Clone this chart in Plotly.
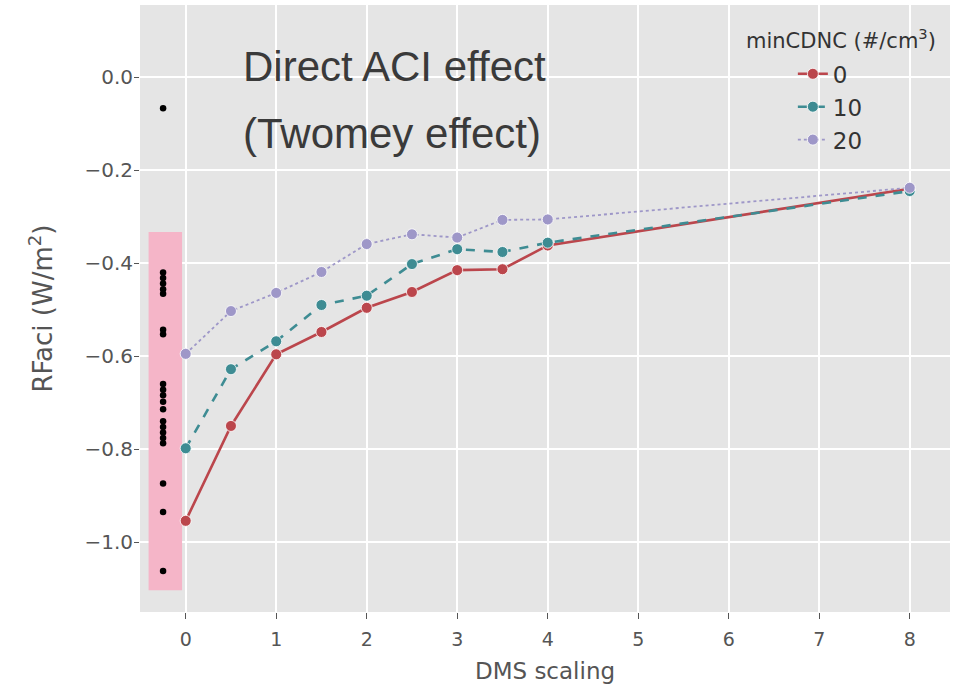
import plotly.graph_objects as go

# ---- data ----
dms_scaling = [0, 0.5, 1, 1.5, 2, 2.5, 3, 3.5, 4, 8]
series_names = ["0", "10", "20"]
rfaci_0 = [-0.954, -0.750, -0.596, -0.548, -0.496, -0.462, -0.415, -0.413, -0.362, -0.240]
rfaci_10 = [-0.798, -0.628, -0.568, -0.490, -0.470, -0.402, -0.370, -0.376, -0.356, -0.245]
rfaci_20 = [-0.595, -0.503, -0.464, -0.419, -0.359, -0.338, -0.345, -0.307, -0.306, -0.238]

# reference model estimates (black dots, drawn to the left of 0)
ref_x = -0.25
ref_values = [-0.067, -0.420, -0.432, -0.444, -0.456, -0.466, -0.543, -0.553,
              -0.660, -0.672, -0.684, -0.698, -0.714, -0.740, -0.752, -0.764,
              -0.776, -0.787, -0.874, -0.935, -1.062]
# shaded range of the reference estimates
range_x = [-0.41, -0.04]
range_y = [-1.103, -0.333]

x_ticks = [0, 1, 2, 3, 4, 5, 6, 7, 8]
y_ticks = [-1.0, -0.8, -0.6, -0.4, -0.2, 0.0]

title_lines = ["Direct ACI effect", "(Twomey effect)"]
legend_title = "minCDNC (#/cm<sup>3</sup>)"

colors = ["#bb464c", "#3e8c93", "#9e97c8"]
dashes = ["solid", "dash", "dot"]
widths = [2.6, 2.6, 1.8]

fig = go.Figure()

fig.add_shape(type="rect", xref="x", yref="y",
              x0=range_x[0], x1=range_x[1], y0=range_y[0], y1=range_y[1],
              fillcolor="#f5b5c8", line=dict(width=0), layer="between")

for name, vals, c, d, w in zip(series_names, [rfaci_0, rfaci_10, rfaci_20], colors, dashes, widths):
    fig.add_trace(go.Scatter(
        x=dms_scaling, y=vals, name=name, mode="lines+markers",
        line=dict(color=c, dash=d, width=w),
        marker=dict(color=c, size=11, line=dict(color="white", width=0.8)),
    ))

fig.add_trace(go.Scatter(
    x=[ref_x] * len(ref_values), y=ref_values, mode="markers",
    marker=dict(color="black", size=6.5), showlegend=False,
))

for i, line in enumerate(title_lines):
    fig.add_annotation(
        text=line, xref="paper", yref="paper",
        x=0.125, y=[0.898, 0.788][i], xanchor="left", yanchor="middle", align="left",
        showarrow=False,
        font=dict(family="Liberation Sans, Arial, sans-serif", size=42, color="#3a3a3a"),
    )

fig.add_annotation(
    text=legend_title, xref="paper", yref="paper", x=0.865, y=0.944,
    xanchor="center", yanchor="middle", showarrow=False,
    font=dict(family="DejaVu Sans, sans-serif", size=21, color="#333333"),
)

fig.update_layout(
    width=955, height=690,
    margin=dict(l=140, r=5, t=5, b=78),
    paper_bgcolor="white", plot_bgcolor="#e5e5e5",
    font=dict(family="DejaVu Sans, sans-serif", color="#555555"),
    legend=dict(
        font=dict(size=23, color="#333333"),
        x=0.806, y=0.922, xanchor="left", yanchor="top",
        bgcolor="rgba(0,0,0,0)", tracegroupgap=0, itemwidth=30,
    ),
    xaxis=dict(
        range=[-0.505, 8.445], tickvals=x_ticks, showgrid=True, gridcolor="white", gridwidth=1.5,
        zeroline=False, ticks="outside", ticklen=6, tickcolor="#555555",
        ticklabelstandoff=4,
        tickfont=dict(size=19, color="#555555"),
        title=dict(text="DMS scaling", font=dict(size=23, color="#555555"), standoff=14),
    ),
    yaxis=dict(
        range=[-1.15, 0.155], tickvals=y_ticks, tickformat=".1f", showgrid=True,
        gridcolor="white", gridwidth=1.5, zeroline=False, ticks="outside", ticklen=5,
        tickcolor="#555555", ticklabelstandoff=-3, tickfont=dict(size=20, color="#555555"),
        title=dict(text="RFaci (W/m<sup>2</sup>)", font=dict(size=26, color="#555555"), standoff=24),
    ),
)

fig.write_html("out.html")
